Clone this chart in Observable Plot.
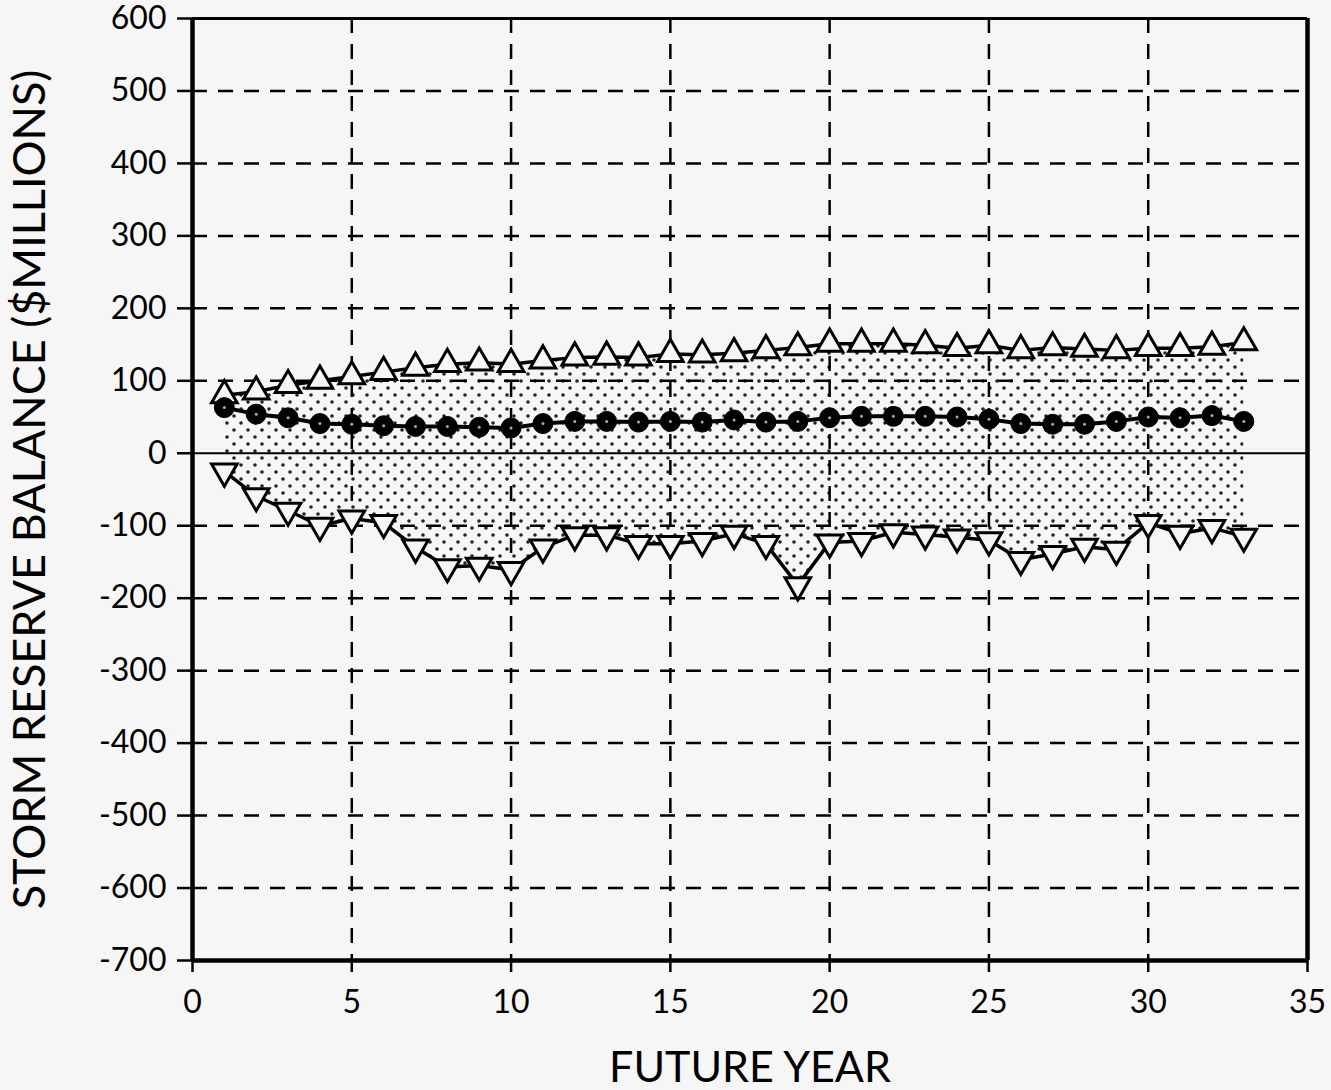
<!DOCTYPE html>
<html>
<head>
<meta charset="utf-8">
<script src="https://cdn.jsdelivr.net/npm/d3@7"></script>
<script src="https://cdn.jsdelivr.net/npm/@observablehq/plot@0.6"></script>
<style>
  html, body { margin: 0; padding: 0; background: #f6f6f6; }
  svg { overflow: visible; }
</style>
</head>
<body>
<div id="chart"></div>
<script>
const years = d3.range(1, 34);
const upper = [80,85,94,100,106,112,118,123,125,123,128,132,133,132,137,136,138,142,146,151,151,151,149,145,149,142,146,144,142,145,145,147,153];
const middle = [63,54,49,41,40,38,37,37,36,35,41,44,44,43,44,43,46,43,44,49,51,51,51,50,47,41,40,40,44,50,49,52,44];
const lower = [-25,-59,-79,-100,-90,-96,-130,-157,-155,-161,-130,-113,-113,-125,-125,-121,-111,-125,-182,-123,-121,-109,-112,-116,-120,-147,-139,-129,-133,-96,-111,-103,-115];
const xTicks = [0, 5, 10, 15, 20, 25, 30, 35];
const yTicks = [-700,-600,-500,-400,-300,-200,-100,0,100,200,300,400,500,600];
const xGrid = [5, 10, 15, 20, 25, 30];
const yGrid = [-600,-500,-400,-300,-200,-100,100,200,300,400,500];
const xLabel = "FUTURE YEAR";
const yLabel = "STORM RESERVE BALANCE ($MILLIONS)";

const rows = years.map((y, i) => ({year: y, upper: upper[i], middle: middle[i], lower: lower[i]}));

const chart = Plot.plot({
  width: 1331,
  height: 1090,
  marginLeft: 192,
  marginRight: 24,
  marginTop: 18,
  marginBottom: 130,
  style: {background: "#f6f6f6", fontFamily: "Lato, 'Open Sans', sans-serif", color: "black", overflow: "visible"},
  x: {domain: [0, 35]},
  y: {domain: [-700, 600]},
  marks: [
    Plot.areaY(rows, {x: "year", y1: "lower", y2: "upper", fill: "url(#stipple)"}),
    Plot.gridX(xGrid, {stroke: "black", strokeOpacity: 1, strokeWidth: 2.5, strokeDasharray: "15,11"}),
    Plot.gridY(yGrid, {stroke: "black", strokeOpacity: 1, strokeWidth: 2.5, strokeDasharray: "15,11"}),
    Plot.ruleY([0], {stroke: "black", strokeWidth: 2}),
    Plot.ruleX([0], {stroke: "black", strokeWidth: 4.5}),
    Plot.ruleX([35], {stroke: "black", strokeWidth: 4.5}),
    Plot.ruleY([-700], {stroke: "black", strokeWidth: 4.5}),
    Plot.ruleY([600], {stroke: "black", strokeWidth: 3}),
    Plot.axisX({ticks: xTicks, tickSize: 12, tickPadding: 18, fontSize: 32, strokeWidth: 2.5, label: null, tickFormat: d => String(d)}),
    Plot.axisY({ticks: yTicks, tickSize: 15, tickPadding: 11, fontSize: 32, strokeWidth: 2.5, label: null, tickFormat: d => String(d)}),
    Plot.line(rows, {x: "year", y: "upper", stroke: "black", strokeWidth: 3.5}),
    Plot.line(rows, {x: "year", y: "middle", stroke: "black", strokeWidth: 4}),
    Plot.line(rows, {x: "year", y: "lower", stroke: "black", strokeWidth: 3.5}),
    Plot.dot(rows, {x: "year", y: "upper", symbol: "triangle", r: 9.5, fill: "#f6f6f6", stroke: "black", strokeWidth: 3}),
    Plot.dot(rows, {x: "year", y: "lower", symbol: "triangle", rotate: 180, r: 9.5, fill: "#f6f6f6", stroke: "black", strokeWidth: 3}),
    Plot.dot(rows, {x: "year", y: "middle", r: 10, fill: "black", stroke: "black", strokeWidth: 1}),
    Plot.dot(rows, {x: "year", y: "middle", r: 1.5, fill: "#aaa"}),
    Plot.text([xLabel], {frameAnchor: "bottom", dy: 108, text: d => d, fontSize: 43, textAnchor: "middle", lineAnchor: "middle", fill: "black"}),
    Plot.text([yLabel], {frameAnchor: "left", dx: -162, rotate: -90, text: d => d, fontSize: 45, textAnchor: "middle", lineAnchor: "middle", fill: "black"})
  ]
});

const ns = "http://www.w3.org/2000/svg";
const defs = document.createElementNS(ns, "defs");
defs.innerHTML = '<pattern id="stipple" patternUnits="userSpaceOnUse" width="14" height="14">' +
  '<circle cx="3" cy="3" r="1.8" fill="#222"/>' +
  '<circle cx="10" cy="10" r="1.8" fill="#222"/>' +
  '</pattern>';
chart.insertBefore(defs, chart.firstChild);

document.getElementById("chart").appendChild(chart);
</script>
</body>
</html>
